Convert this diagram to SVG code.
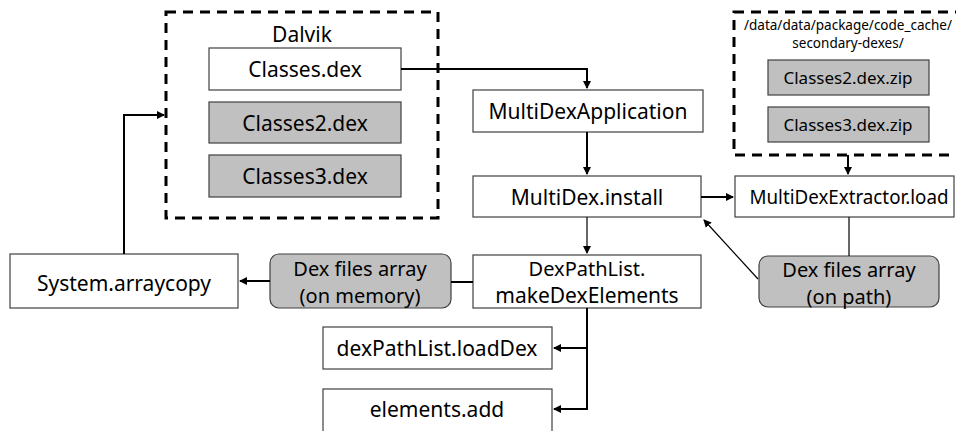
<svg xmlns="http://www.w3.org/2000/svg" width="956" height="431" viewBox="0 0 956 431">
<defs>
<marker id="ah" markerWidth="10" markerHeight="10" refX="7" refY="4" orient="auto" markerUnits="userSpaceOnUse">
<path d="M0,0 L8,4 L0,8 Z" fill="#000"/>
</marker>
<style>
.box{fill:#fff;stroke:#404040;stroke-width:1.2}
.gray{fill:#c0c0c0;stroke:#404040;stroke-width:1.2}
.dash{fill:none;stroke:#000;stroke-width:3;stroke-dasharray:10,7}
.t{font-family:"Noto Sans","Liberation Sans",sans-serif;font-size:21px;fill:#000;text-anchor:middle;dominant-baseline:central}
.s{font-size:13.5px}
.z{font-size:17px}
.m{font-size:20px}
.c{fill:none;stroke:#000;stroke-width:2}
.thin{fill:none;stroke:#000;stroke-width:1.2}
</style>
</defs>
<g id="dalvik">
<rect class="dash" x="166" y="12" width="272" height="206"/>
<text class="t" x="302" y="34">Dalvik</text>
</g>
<g id="classes-dex"><rect class="box" x="209" y="48" width="192" height="42"/><text class="t" x="305" y="69">Classes.dex</text></g>
<g id="classes2-dex"><rect class="gray" x="209" y="102" width="192" height="41"/><text class="t" x="305" y="123">Classes2.dex</text></g>
<g id="classes3-dex"><rect class="gray" x="209" y="155" width="192" height="42"/><text class="t" x="305" y="176">Classes3.dex</text></g>
<g id="code-cache">
<rect class="dash" x="734" y="12" width="240" height="143"/>
<text class="t s" x="848" y="25" textLength="208" lengthAdjust="spacingAndGlyphs">/data/data/package/code_cache/</text>
<text class="t s" x="848" y="43">secondary-dexes/</text>
</g>
<g id="classes2-zip"><rect class="gray" x="768" y="60" width="161" height="35"/><text class="t z" x="848" y="77">Classes2.dex.zip</text></g>
<g id="classes3-zip"><rect class="gray" x="768" y="107" width="161" height="35"/><text class="t z" x="848" y="124">Classes3.dex.zip</text></g>
<g id="multidex-app"><rect class="box" x="473" y="90" width="230" height="42"/><text class="t" x="588" y="111">MultiDexApplication</text></g>
<g id="multidex-install"><rect class="box" x="473" y="176" width="228" height="41"/><text class="t" x="587" y="197">MultiDex.install</text></g>
<g id="extractor-load"><rect class="box" x="735" y="176" width="219" height="41"/><text class="t" x="849" y="197" style="font-size:19px" textLength="199" lengthAdjust="spacingAndGlyphs">MultiDexExtractor.load</text></g>
<g id="dex-path"><rect class="gray" x="759" y="256" width="180" height="51" rx="9"/><text class="t m" x="849" y="269">Dex files array</text><text class="t m" x="849" y="296">(on path)</text></g>
<g id="make-dex-elements"><rect class="box" x="473" y="255" width="228" height="53"/><text class="t m" x="587" y="268">DexPathList.</text><text class="t" x="587" y="295">makeDexElements</text></g>
<g id="dex-memory"><rect class="gray" x="270" y="254" width="181" height="54" rx="9"/><text class="t m" x="360" y="268">Dex files array</text><text class="t m" x="360" y="295">(on memory)</text></g>
<g id="arraycopy"><rect class="box" x="10" y="254" width="228" height="54"/><text class="t" x="124" y="283">System.arraycopy</text></g>
<g id="load-dex"><rect class="box" x="323" y="327" width="229" height="42"/><text class="t" x="437" y="348">dexPathList.loadDex</text></g>
<g id="elements-add"><rect class="box" x="323" y="389" width="229" height="45"/><text class="t" x="437" y="409">elements.add</text></g>
<g id="connectors">
<path class="c" d="M401,69 H587 V88" marker-end="url(#ah)"/>
<path class="c" d="M587,132 V174" marker-end="url(#ah)"/>
<path class="c" d="M701,197 H733" marker-end="url(#ah)"/>
<path class="c" d="M848,155 V174" marker-end="url(#ah)"/>
<path class="thin" d="M849,217 V256"/>
<path class="thin" d="M758,279 L704,220" marker-end="url(#ah)"/>
<path class="thin" d="M587,217 V253" marker-end="url(#ah)"/>
<path class="c" d="M473,282 H451"/>
<path class="c" d="M270,281 H240" marker-end="url(#ah)"/>
<path class="c" d="M124,254 V115 H164" marker-end="url(#ah)"/>
<path class="c" d="M587,308 V409 H554" marker-end="url(#ah)"/>
<path class="c" d="M587,348 H554" marker-end="url(#ah)"/>
</g>
</svg>
